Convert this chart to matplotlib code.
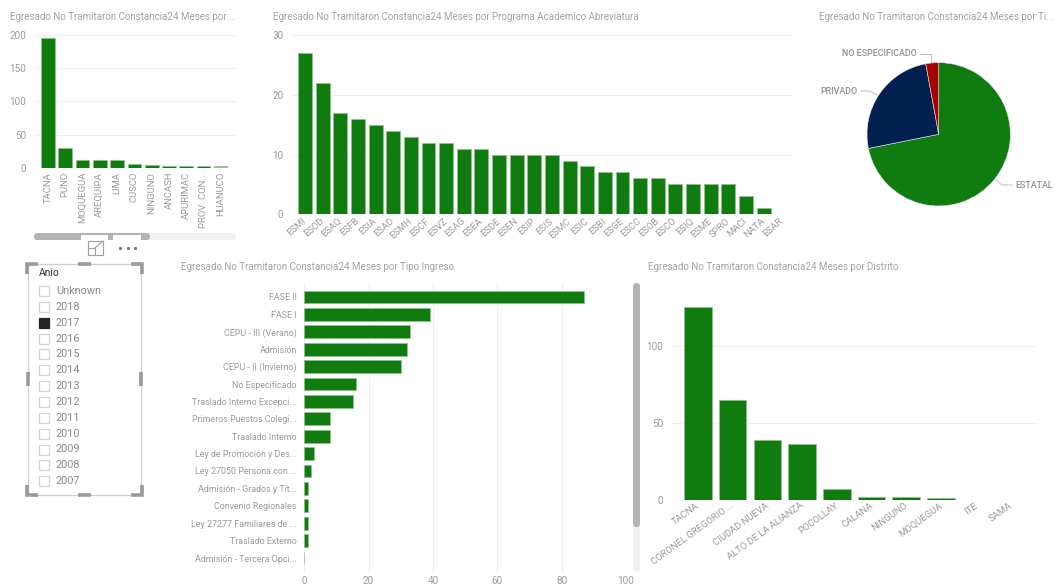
import matplotlib
matplotlib.use("Agg")
import matplotlib.pyplot as plt
from matplotlib.patches import FancyBboxPatch, Rectangle
from matplotlib.transforms import ScaledTranslation

plt.rcParams['font.family'] = ['Roboto', 'DejaVu Sans']

W, H = 1055, 587
GREEN = '#107c10'
EDGE = '#8fc08f'
TXT = '#9b9b9b'
GRID = '#efefef'

dep_names = ['TACNA', 'PUNO', 'MOQUEGUA', 'AREQUIPA', 'LIMA', 'CUSCO', 'NINGUNO', 'ANCASH',
             'APURIMAC', 'PROV. CON...', 'HUANUCO']
dep_values = [195, 30, 12, 11, 11, 5, 4, 2, 2, 2, 2]

prog_names = ['ESMI', 'ESOD', 'ESAQ', 'ESFB', 'ESIA', 'ESAD', 'ESMH', 'ESCF', 'ESVZ', 'ESAG',
              'ESEA', 'ESDE', 'ESEN', 'ESIP', 'ESIS', 'ESMC', 'ESIC', 'ESBI', 'ESGE', 'ESCC',
              'ESOB', 'ESCO', 'ESIQ', 'ESME', 'SPRO', 'MACI', 'NATA', 'ESAR']
prog_values = [27, 22, 17, 16, 15, 14, 13, 12, 12, 11, 11, 10, 10, 10, 10, 9, 8, 7, 7, 6, 6,
               5, 5, 5, 5, 3, 1, 0]

tipo_names = ['ESTATAL', 'PRIVADO', 'NO ESPECIFICADO']
tipo_values = [199, 70, 8]
tipo_colors = ['#107c10', '#002050', '#a80000']

ingreso_names = ['FASE II', 'FASE I', 'CEPU - III (Verano)', 'Admisión', 'CEPU - II (Invierno)',
                 'No Especificado', 'Traslado Interno Excepci...', 'Primeros Puestos Colegi...',
                 'Traslado Interno', 'Ley de Promoción y Des...', 'Ley 27050 Persona con ...',
                 'Admisión - Grados y Tít...', 'Convenio Regionales', 'Ley 27277 Familiares de ...',
                 'Traslado Externo', 'Admisión - Tercera Opci...']
ingreso_values = [87, 39, 33, 32, 30, 16, 15, 8, 8, 3, 2, 1, 1, 1, 1, 0]

distrito_names = ['TACNA', 'CORONEL GREGORIO ...', 'CIUDAD NUEVA', 'ALTO DE LA ALIANZA', 'POCOLLAY',
                  'CALANA', 'NINGUNO', 'MOQUEGUA', 'ITE', 'SAMA']
distrito_values = [125, 65, 39, 36, 7, 2, 2, 1, 0, 0]

anios = ['Unknown', '2018', '2017', '2016', '2015', '2014', '2013', '2012', '2011', '2010',
         '2009', '2008', '2007']
anio_selected = '2017'

titles = [(10, 17.5, 'Egresado No Tramitaron Constancia24 Meses por...'),
          (273, 17.5, 'Egresado No Tramitaron Constancia24 Meses por Programa Academico Abreviatura'),
          (819, 17.5, 'Egresado No Tramitaron Constancia24 Meses por Ti...'),
          (181, 266.5, 'Egresado No Tramitaron Constancia24 Meses por Tipo Ingreso'),
          (648, 266.5, 'Egresado No Tramitaron Constancia24 Meses por Distrito')]


def px_axes(fig, left, top, right, bottom):
    ax = fig.add_axes([left / W, 1 - bottom / H, (right - left) / W, (bottom - top) / H])
    ax.patch.set_alpha(0)
    for s in ax.spines.values():
        s.set_visible(False)
    ax.tick_params(length=0, colors=TXT, labelsize=7.2)
    ax.set_axisbelow(True)
    return ax


def column_chart(fig, box, names, values, ymax, yticks, first_px, step_px, rotation, shift=(0, 0), width=0.79):
    left, top, right, bottom = box
    ax = px_axes(fig, left, top, right, bottom)
    bars = ax.bar(range(len(names)), values, width, color=GREEN, edgecolor=EDGE, linewidth=0.5)
    ax.set_xlim((left - first_px) / step_px, (right - first_px) / step_px)
    ax.set_ylim(0, ymax)
    ax.set_yticks(yticks)
    ax.yaxis.grid(True, color=GRID, linewidth=0.8)
    ax.set_xticks(range(len(names)))
    if rotation == 90:
        ax.set_xticklabels(names, rotation=90, ha='center', va='top', fontsize=6.8)
    else:
        ax.set_xticklabels(names, rotation=rotation, ha='right', va='top',
                           rotation_mode='anchor', fontsize=6.8)
    ax.tick_params(axis='y', pad=5.5)
    ax.tick_params(axis='x', pad=3)
    off = ScaledTranslation(shift[0] / 100, shift[1] / 100, fig.dpi_scale_trans)
    for lab in ax.get_xticklabels():
        lab.set_transform(lab.get_transform() + off)
    for v, b in zip(values, bars):
        if v == 0:
            b.set_visible(False)
    return ax, bars


fig = plt.figure(figsize=(W / 100, H / 100), dpi=100, facecolor='white')

ax1, bars1 = column_chart(fig, (34, 35, 236, 167.7), dep_names, dep_values, 200,
                          [0, 50, 100, 150, 200], 47.9, 17.3, 90)
bars1[-1].set_alpha(0.45)
bars1[-1].set_edgecolor('none')

ax2, bars2 = column_chart(fig, (291, 35, 793, 214.3), prog_names, prog_values, 30,
                          [0, 10, 20, 30], 305, 17.64, 42, shift=(-3, 2))

ax6, bars6 = column_chart(fig, (671, 283, 1038, 500), distrito_names, distrito_values, 140.6,
                          [0, 50, 100], 698, 34.7, 36, shift=(-2, 3))

# pie
R = 71.7
cx, cy = 938.7, 134.3
ax3 = px_axes(fig, cx - 1.25 * R, cy - 1.25 * R, cx + 1.25 * R, cy + 1.25 * R)
ax3.pie(tipo_values, colors=tipo_colors, startangle=90, counterclock=False, radius=1,
        wedgeprops={'linewidth': 0.4, 'edgecolor': '#e8e8e8'})

# horizontal bars
ax5 = px_axes(fig, 304.3, 283, 626, 571.7)
ax5.barh(range(len(ingreso_names)), ingreso_values, 0.73, color=GREEN, edgecolor=EDGE, linewidth=0.5)
ax5.set_xlim(0, 100)
ax5.set_ylim((571.7 - 297) / 17.4, (283 - 297) / 17.4)
ax5.set_xticks([0, 20, 40, 60, 80, 100])
ax5.set_yticks(range(len(ingreso_names)))
ax5.set_yticklabels(ingreso_names, fontsize=6.4)
ax5.xaxis.grid(True, color=GRID, linewidth=0.8)
ax5.tick_params(axis='y', pad=5.5)
ax5.tick_params(axis='x', pad=3)

# everything that is report chrome goes on a pixel overlay
ov = fig.add_axes([0, 0, 1, 1], zorder=10)
ov.set_xlim(0, W)
ov.set_ylim(H, 0)
ov.axis('off')
ov.patch.set_alpha(0)

for x, y, t in titles:
    ov.text(x, y, t, fontsize=7.03, color='#a3a3a3', va='center', ha='left')

# pie labels and leaders
pie_labels = [(1015, 185, tipo_names[0], 'left', [(996, 180), (1002, 185), (1012, 185)]),
              (858, 91, tipo_names[1], 'right', [(877, 95), (870, 91), (861, 91)]),
              (917, 54, tipo_names[2], 'right', [(931, 62), (931, 54), (920, 54)])]
for x, y, t, ha, pts in pie_labels:
    ov.text(x, y, t, fontsize=6.4, color='#8f8f8f', va='center', ha=ha, fontweight='medium')
    ov.plot([p[0] for p in pts], [p[1] for p in pts], color='#c4c4c4', lw=0.8)


def pill(x0, y0, x1, y1, color):
    r = min(x1 - x0, y1 - y0) / 2
    ov.add_patch(FancyBboxPatch((x0 + r, y0 + r), x1 - x0 - 2 * r, y1 - y0 - 2 * r,
                                boxstyle='round,pad=%f' % r, fc=color, ec='none'))


# scrollbars
pill(34, 233, 236, 240, '#f1f1f1')
pill(34, 233, 150, 240, '#b3b3b3')
ov.add_patch(Rectangle((81, 235), 27, 7, fc='white', ec='none'))
ov.add_patch(Rectangle((113, 235), 28, 7, fc='white', ec='none'))
pill(633, 283, 640, 572, '#f1f1f1')
pill(633, 283, 640, 527, '#b3b3b3')

# focus icon and dots
ov.add_patch(Rectangle((88, 241), 15, 14, fc='white', ec='#a0a0a0', lw=0.8))
ov.plot([88, 95, 95], [248, 248, 255], color='#a0a0a0', lw=0.8)
ov.plot([95, 103], [248, 241], color='#a0a0a0', lw=0.8)
ov.plot([120, 127.5, 135], [247.5, 247.5, 247.5], ls='none', marker='o', ms=1.3, color='#777777')

# slicer
ov.add_patch(Rectangle((28, 264), 113, 231, fc='white', ec='#cfcfcf', lw=0.9))
ov.text(39, 273.5, 'Anio', fontsize=7.4, color='#333333', va='center')
for i, a in enumerate(anios):
    y = 291 + 15.85 * i
    sel = a == anio_selected
    ov.add_patch(Rectangle((38.5, y - 5), 10, 10, fc='#252525' if sel else 'white',
                           ec='#252525' if sel else '#d4d4d4', lw=0.9))
    ov.text(56, y, a, fontsize=7.8, color='#8a8a8a', va='center')

HANDLE = '#9a9a9a'
for xs, ys in [([27, 27, 38], [274, 264, 264]), ([131, 142, 142], [264, 264, 274]),
               ([27, 27, 38], [485, 495, 495]), ([131, 142, 142], [495, 495, 485]),
               ([78, 91], [264, 264]), ([78, 91], [495, 495]),
               ([28, 28], [372, 386]), ([141, 141], [372, 386])]:
    ov.plot(xs, ys, color=HANDLE, lw=2.6, solid_capstyle='butt', solid_joinstyle='miter')

fig.savefig('out.png', dpi=100, facecolor='white')
